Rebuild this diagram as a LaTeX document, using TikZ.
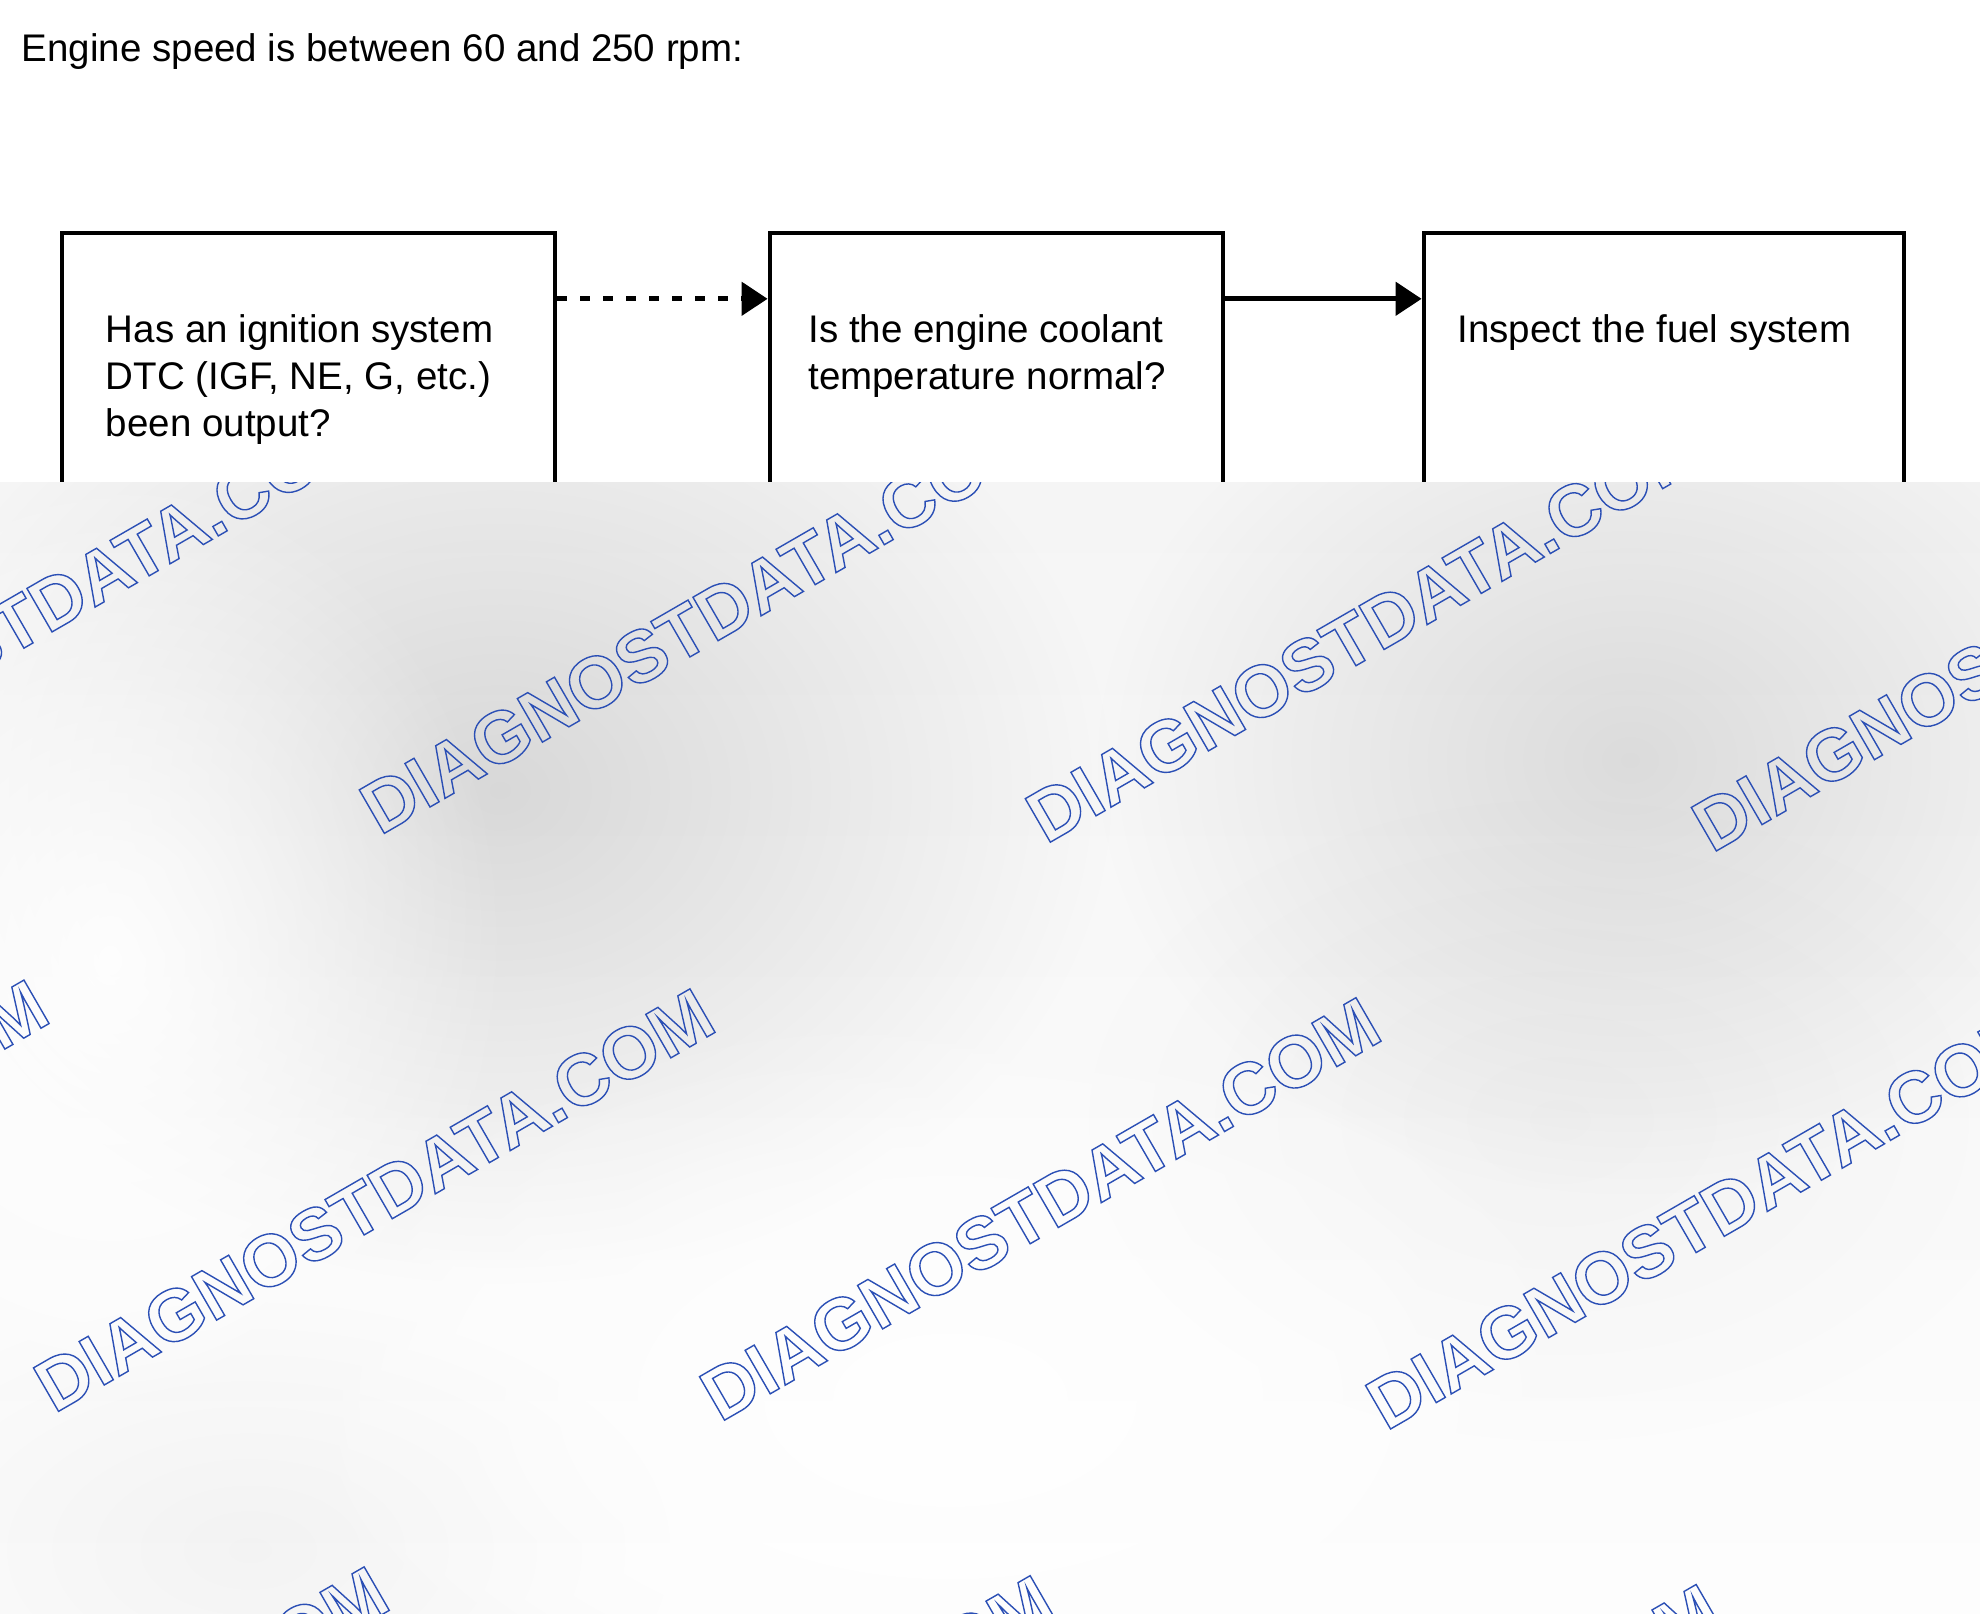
\documentclass[tikz,border=0pt]{standalone}
\usepackage{fontspec}
\setmainfont{Liberation Sans}
\setsansfont{Liberation Sans}
\usetikzlibrary{arrows.meta,fadings}

\definecolor{wmblue}{HTML}{2B4FB5}
\definecolor{bandtop}{HTML}{F5F5F5}
\definecolor{bandbot}{HTML}{FDFDFD}

% outlined letters for the watermark
\newcommand\wmoutline[1]{\special{pdf:literal direct 1 Tr 0.7 w}#1\special{pdf:literal direct 0 Tr}}

\tikzfading[name=softblob, inner color=transparent!0, outer color=transparent!100]

\tikzset{
  stepbox/.style={draw, line width=2.4pt, inner sep=0pt, minimum height=250pt},
  boxtext/.style={anchor=north west, inner sep=0pt, align=left,
    font=\fontsize{19.25pt}{23.35pt}\selectfont},
  flow/.style={line width=2.4pt, -{Triangle[length=13pt,width=16.5pt]}},
  wmtext/.style={anchor=base west, inner sep=0pt, rotate=30, text=wmblue,
    font=\fontsize{36.5pt}{36.5pt}\selectfont\bfseries},
  blob/.style={fill=black, path fading=softblob},
}

\begin{document}
\begin{tikzpicture}[x=0.5pt,y=-0.5pt]
\useasboundingbox (0,0) rectangle (1980,1613);

\node[anchor=base west, inner sep=0pt, font=\fontsize{19.25pt}{23.35pt}\selectfont]
  (title) at (21.5,61.7) {Engine speed is between 60 and 250 rpm:};

% the three steps
\node[stepbox, minimum width=246.5pt] (dtc) at (308.5,483) {};
\node[stepbox, minimum width=226.5pt] (ect) at (996.5,483) {};
\node[stepbox, minimum width=240pt] (fuel) at (1664,483) {};

\node[boxtext] (dtctext) at (105.5,314.5) {Has an ignition system\\DTC (IGF, NE, G, etc.)\\been output?};
\node[boxtext] (ecttext) at (808,314.5) {Is the engine coolant\\temperature normal?};
\node[boxtext] (fueltext) at (1457,314.5) {Inspect the fuel system};

\draw[flow, dash pattern=on 5pt off 6.5pt] ([yshift=-34.1pt]dtc.north east) -- ([yshift=-34.1pt]ect.north west);
\draw[flow] ([yshift=-34.1pt]ect.north east) -- ([yshift=-34.1pt]fuel.north west);

% grey lower band with the watermark
\begin{scope}
\clip (0,482) rectangle (1980,1613);
\shade[top color=bandtop, bottom color=bandbot] (0,482) rectangle (1980,1613);
\fill[blob, opacity=0.12] (500,790) ellipse (620 and 500);
\fill[blob, opacity=0.11] (1630,760) ellipse (540 and 440);
\fill[blob, opacity=0.03] (1560,1120) ellipse (500 and 340);
\fill[blob, opacity=0.04] (250,1550) ellipse (440 and 260);
\fill[white, path fading=softblob, opacity=0.9] (110,960) ellipse (400 and 500);
\fill[white, path fading=softblob, opacity=0.9] (950,1400) ellipse (700 and 400);
\foreach \i in {-1,...,3}
  \foreach \j in {-1,0,1}
    \node[wmtext] (wm\i\j) at ({54+666*\i+325.8*\j},{1414+8.8*\i-578*\j}) {\wmoutline{DIAGNOSTDATA.COM}};
\end{scope}
\end{tikzpicture}
\end{document}
